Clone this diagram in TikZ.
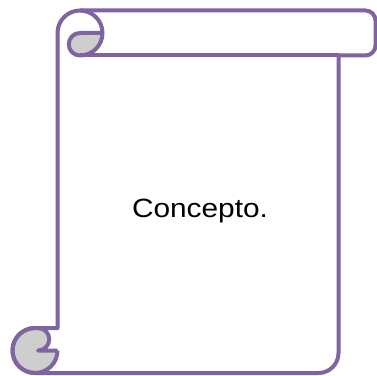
\documentclass[tikz,border=0pt]{standalone}
\usepackage{fontspec}
\usepackage{tikz}
\newfontfamily\conceptfont[FakeStretch=1.13]{Liberation Sans}
\definecolor{scrollpurple}{RGB}{128,100,162}
\definecolor{curlgray}{RGB}{206,206,206}

\begin{document}
\begin{tikzpicture}[x=1pt,y=1pt,
    scrollline/.style={draw=scrollpurple,line width=4pt,line join=round},
    curlfill/.style={fill=curlgray}]
  \useasboundingbox (0,0) rectangle (377,375);
  % sheet with top band and bottom curl
  \path[fill=white] (57.5,47) -- (57.5,342) arc[start angle=180,end angle=90,radius=22.5]
    -- (365.5,364.5) arc[start angle=90,end angle=0,radius=10]
    -- (375.5,329.5) arc[start angle=0,end angle=-90,radius=10]
    -- (338.5,319.5) -- (338.5,22) arc[start angle=0,end angle=-90,radius=20]
    -- (35,2) arc[start angle=270,end angle=90,radius=22.5] -- cycle;
  % shaded parts of the curls
  \fill[curlfill] (102.5,342) arc[start angle=0,end angle=-90,radius=22.5]
    arc[start angle=-90,end angle=-270,radius=11.25] -- cycle;
  \fill[curlfill] (57.5,24.5) arc[start angle=0,end angle=-270,radius=22.5]
    -- (38,47) arc[start angle=90,end angle=-90,radius=11.25] -- cycle;
  % outline
  \draw[scrollline] (57.5,47) -- (57.5,342) arc[start angle=180,end angle=90,radius=22.5]
    -- (365.5,364.5) arc[start angle=90,end angle=0,radius=10]
    -- (375.5,329.5) arc[start angle=0,end angle=-90,radius=10]
    -- (338.5,319.5) -- (338.5,22) arc[start angle=0,end angle=-90,radius=20]
    -- (35,2) arc[start angle=270,end angle=90,radius=22.5] -- cycle;
  \draw[scrollline] (338.5,319.5) -- (80,319.5);
  % top curl
  \draw[scrollline] (80,364.5) arc[start angle=90,end angle=-90,radius=22.5]
    arc[start angle=-90,end angle=-270,radius=11.25] -- (102.5,342);
  % bottom curl
  \draw[scrollline] (57.5,24.5) arc[start angle=0,end angle=-270,radius=22.5];
  \draw[scrollline] (38,47) arc[start angle=90,end angle=-90,radius=11.25] -- (57.5,24.5);
  \node[anchor=base,inner sep=0pt,font=\conceptfont\fontsize{26.4}{30}\selectfont]
    (concept) at (200,157.7) {Concepto.};
\end{tikzpicture}
\end{document}
